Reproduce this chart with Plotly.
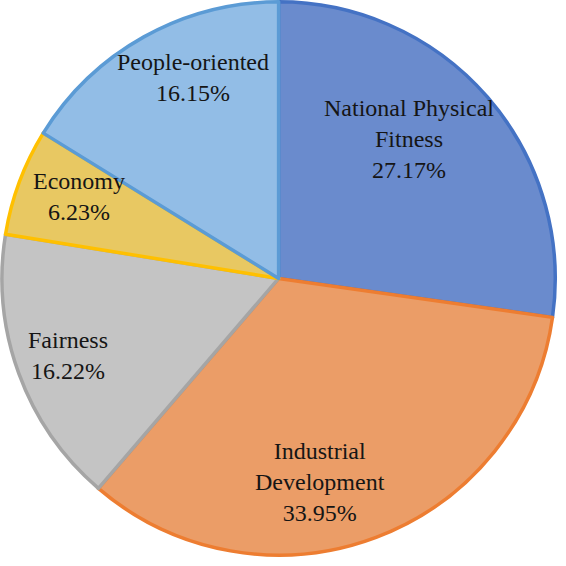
import math
import plotly.graph_objects as go

categories = ["National Physical<br>Fitness", "Industrial<br>Development", "Fairness", "Economy", "People-oriented"]
values = [27.17, 33.95, 16.22, 6.23, 16.15]
pct_text = ["27.17%", "33.95%", "16.22%", "6.23%", "16.15%"]

fill_colors = ["#6a8bcd", "#eb9d67", "#c4c4c4", "#e8c862", "#92bde6"]
line_colors = ["#4472c4", "#ed7d31", "#a5a5a5", "#ffc000", "#5b9bd5"]

# label placement style (radial fraction and small angular shift, degrees)
label_r = [0.69, 0.75, 0.81, 0.78, 0.79]
label_shift = [-6, 9, 0, 2, 6]

W = H = 566
dom_x = [0.0035, 0.981]
dom_y = [0.019, 0.997]
LABEL_FONT = dict(family="Times New Roman", size=24, color="#151515")

fig = go.Figure()
fig.add_trace(go.Pie(
    labels=categories,
    values=values,
    sort=False,
    direction="clockwise",
    rotation=0,
    marker=dict(colors=fill_colors, line=dict(color=line_colors, width=3.5)),
    textinfo="none",
    showlegend=False,
    domain=dict(x=dom_x, y=dom_y),
))

# label annotations placed at slice mid-angles derived from the data
cx = (dom_x[0] + dom_x[1]) / 2 * W
cy = (dom_y[0] + dom_y[1]) / 2 * H
R = min((dom_x[1] - dom_x[0]) * W, (dom_y[1] - dom_y[0]) * H) / 2
total = sum(values)
cum = 0.0
for lab, v, t, fr, sh in zip(categories, values, pct_text, label_r, label_shift):
    mid = (cum + v / 2) / total * 360 + sh
    cum += v
    a = math.radians(mid)
    px = cx + fr * R * math.sin(a)
    py = cy + fr * R * math.cos(a)
    fig.add_annotation(
        x=px / W, y=py / H, xref="paper", yref="paper",
        text=f"{lab}<br>{t}", showarrow=False,
        xanchor="center", yanchor="middle",
        font=LABEL_FONT,
    )

fig.update_layout(
    width=W, height=H,
    margin=dict(l=0, r=0, t=0, b=0),
    paper_bgcolor="white",
    plot_bgcolor="white",
    font=dict(family="Times New Roman", size=24, color="#151515"),
)

fig.write_html("out.html")
